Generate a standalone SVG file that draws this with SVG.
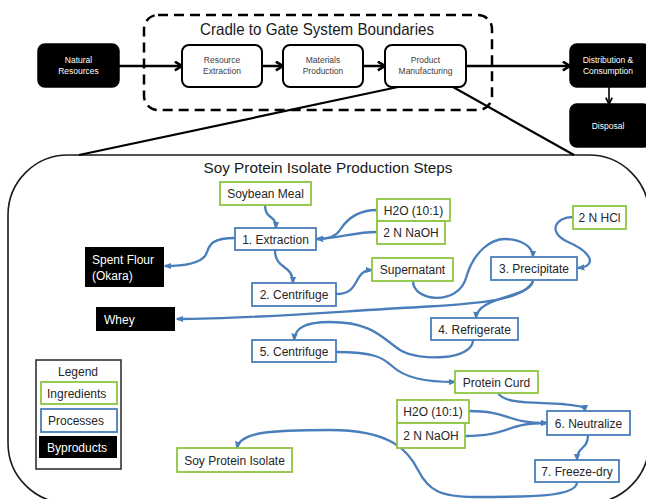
<svg xmlns="http://www.w3.org/2000/svg" width="646" height="499" viewBox="0 0 646 499">
<defs>
<style>
text{font-family:"Liberation Sans",Arial,sans-serif;}
.blk{fill:#000;stroke:#000;stroke-width:1.5;}
.wht{fill:#fff;stroke:#000;stroke-width:2;}
.ts{font-size:8.5px;text-anchor:middle;}
.tw{fill:#fff;}
.tg{fill:#404040;}
.ing{fill:#fff;stroke:#8DC63F;stroke-width:1.8;}
.pro{fill:#fff;stroke:#4A7EBB;stroke-width:1.8;}
.byp{fill:#000;}
.tn{font-size:12px;fill:#262626;text-anchor:middle;}
.tl{font-size:12px;}
.con path{fill:none;stroke:#4A7EBB;stroke-width:2.3;marker-end:url(#ab);}
.kcon line{stroke:#000;stroke-width:2.5;}
</style>
<marker id="ab" viewBox="0 0 10 10" refX="8" refY="5" markerWidth="8" markerHeight="8" markerUnits="userSpaceOnUse" orient="auto"><path d="M0,1 L10,5 L0,9 z" fill="#4A7EBB"/></marker>
<marker id="ak" viewBox="0 0 10 10" refX="8.5" refY="5" markerWidth="11" markerHeight="11" markerUnits="userSpaceOnUse" orient="auto"><path d="M2,1 L8.5,5 L2,9" fill="none" stroke="#000" stroke-width="2.4"/></marker>
<marker id="ak2" viewBox="0 0 10 10" refX="9" refY="5" markerWidth="8" markerHeight="8" markerUnits="userSpaceOnUse" orient="auto"><path d="M1,1 L9,5 L1,9" fill="none" stroke="#000" stroke-width="2.2"/></marker>
</defs>
<rect width="646" height="499" fill="#fff"/>

<g id="boundary">
<rect x="144" y="15" width="348" height="95" rx="14" fill="none" stroke="#000" stroke-width="2.5" stroke-dasharray="10,6"/>
<text x="317" y="35" font-size="16.5" text-anchor="middle" textLength="234" lengthAdjust="spacingAndGlyphs" fill="#1a1a1a">Cradle to Gate System Boundaries</text>
</g>

<g id="steps-frame">
<rect x="8" y="155" width="641" height="348" rx="60" fill="none" stroke="#1a1a1a" stroke-width="1.6"/>
<text x="328" y="173" font-size="15" text-anchor="middle" textLength="249" lengthAdjust="spacingAndGlyphs" fill="#1a1a1a">Soy Protein Isolate Production Steps</text>
</g>

<g id="zoom-lines" stroke="#000" stroke-width="2.2">
<line x1="398" y1="87" x2="79" y2="155"/>
<line x1="453" y1="87" x2="574" y2="155"/>
</g>

<g id="top-connectors" class="kcon">
<line x1="119" y1="66" x2="182" y2="66" marker-end="url(#ak)"/>
<line x1="262" y1="66" x2="283" y2="66" marker-end="url(#ak)"/>
<line x1="363" y1="66" x2="385" y2="66" marker-end="url(#ak)"/>
<line x1="466" y1="66" x2="570" y2="66" marker-end="url(#ak)"/>
<line x1="609" y1="87" x2="609" y2="104" style="stroke-width:1.6" marker-end="url(#ak2)"/>
</g>

<g id="natural-resources">
<rect class="blk" x="38" y="44" width="81" height="43" rx="7"/>
<text class="ts tw" x="78.5" y="63">Natural</text>
<text class="ts tw" x="78.5" y="74">Resources</text>
</g>
<g id="resource-extraction">
<rect class="wht" x="182" y="45" width="80" height="42" rx="7"/>
<text class="ts tg" x="222" y="63">Resource</text>
<text class="ts tg" x="222" y="74">Extraction</text>
</g>
<g id="materials-production">
<rect class="wht" x="283" y="45" width="80" height="42" rx="7"/>
<text class="ts tg" x="323" y="63">Materials</text>
<text class="ts tg" x="323" y="74">Production</text>
</g>
<g id="product-manufacturing">
<rect class="wht" x="385" y="45" width="81" height="42" rx="7"/>
<text class="ts tg" x="425.5" y="63">Product</text>
<text class="ts tg" x="425.5" y="74">Manufacturing</text>
</g>
<g id="distribution">
<rect class="blk" x="570" y="44" width="80" height="43" rx="7"/>
<text class="ts tw" x="608" y="63">Distribution &amp;</text>
<text class="ts tw" x="608" y="74">Consumption</text>
</g>
<g id="disposal">
<rect class="blk" x="570" y="104" width="80" height="43" rx="7"/>
<text class="ts tw" x="608" y="129">Disposal</text>
</g>

<g id="connectors" class="con">
<path d="M265,205 C265,220 276,214 276,228"/>
<path d="M377,210 C355,210 345,222 340,230 C335,238 325,239 317,239"/>
<path d="M377,232 C355,232 340,238 317,239"/>
<path d="M235,238 C205,238 210,250 205,256 C198,265 180,266 165,266"/>
<path d="M275,250 C275,270 293,264 293,283"/>
<path d="M336,294 C362,294 352,270 372,270"/>
<path d="M413,281 C413,302 458,306 466,278 C474,250 492,239 505,239 C520,239 533,246 533,257"/>
<path d="M573,217 C555,217 548,232 566,241 C592,252 598,266 578,268"/>
<path d="M533,281 C524,302 470,304 420,307 C330,312 250,319 177,319"/>
<path d="M533,281 C530,298 477,296 476,318"/>
<path d="M473,340 C473,360 420,362 400,350 C382,338 372,322 330,322 C305,322 295,328 294,340"/>
<path d="M336,352 C375,352 383,358 392,366 C405,378 425,382 455,382"/>
<path d="M498,393 C505,405 540,402 562,404 C580,406 585,406 585,411"/>
<path d="M469,411 C510,411 505,423 547,423"/>
<path d="M465,436 C510,436 505,423 547,423"/>
<path d="M588,435 C588,450 577,446 577,460"/>
<path d="M577,482 C577,497 530,497 475,497 C440,497 428,490 418,470 C408,450 390,430 330,430 C270,430 240,432 237,448"/>
</g>

<g id="soybean-meal"><rect class="ing" x="220" y="182" width="91" height="23"/><text class="tn" x="265.5" y="198">Soybean Meal</text></g>
<g id="extraction"><rect class="pro" x="235" y="228" width="81" height="22"/><text class="tn" x="275.5" y="243.5">1. Extraction</text></g>
<g id="spent-flour"><rect class="byp" x="85" y="247" width="79" height="40"/><text class="tl" x="92" y="264" fill="#fff">Spent Flour</text><text class="tl" x="92" y="280" fill="#fff">(Okara)</text></g>
<g id="centrifuge-2"><rect class="pro" x="252" y="283" width="84" height="23"/><text class="tn" x="294" y="299">2. Centrifuge</text></g>
<g id="whey"><rect class="byp" x="96" y="307" width="79" height="24"/><text class="tl" x="104" y="323.5" fill="#fff">Whey</text></g>
<g id="h2o-top"><rect class="ing" x="377" y="199" width="73" height="22"/><text class="tn" x="413.5" y="214.5">H2O (10:1)</text></g>
<g id="naoh-top"><rect class="ing" x="377" y="221" width="68" height="23"/><text class="tn" x="411" y="237">2 N NaOH</text></g>
<g id="supernatant"><rect class="ing" x="372" y="258" width="81" height="23"/><text class="tn" x="412.5" y="274">Supernatant</text></g>
<g id="precipitate"><rect class="pro" x="491" y="257" width="86" height="23"/><text class="tn" x="534" y="273">3. Precipitate</text></g>
<g id="hcl"><rect class="ing" x="573" y="206" width="53" height="23"/><text class="tn" x="599.5" y="222">2 N HCl</text></g>
<g id="refrigerate"><rect class="pro" x="431" y="318" width="87" height="22"/><text class="tn" x="474.5" y="333.5">4. Refrigerate</text></g>
<g id="centrifuge-5"><rect class="pro" x="252" y="340" width="84" height="22"/><text class="tn" x="294" y="355.5">5. Centrifuge</text></g>
<g id="protein-curd"><rect class="ing" x="455" y="371" width="83" height="22"/><text class="tn" x="496.5" y="386.5">Protein Curd</text></g>
<g id="h2o-bottom"><rect class="ing" x="397" y="400" width="72" height="23"/><text class="tn" x="433" y="416">H2O (10:1)</text></g>
<g id="naoh-bottom"><rect class="ing" x="397" y="423" width="68" height="25"/><text class="tn" x="431" y="440">2 N NaOH</text></g>
<g id="neutralize"><rect class="pro" x="547" y="411" width="83" height="24"/><text class="tn" x="588.5" y="427.5">6. Neutralize</text></g>
<g id="freeze-dry"><rect class="pro" x="535" y="460" width="84" height="22"/><text class="tn" x="577" y="475.5">7. Freeze-dry</text></g>
<g id="soy-protein-isolate"><rect class="ing" x="177" y="448" width="115" height="24"/><text class="tn" x="234.5" y="464.5">Soy Protein Isolate</text></g>

<g id="legend">
<rect x="36" y="360" width="85" height="109" fill="#fff" stroke="#333" stroke-width="1.6"/>
<text class="tn" x="78" y="376">Legend</text>
<rect class="ing" x="41" y="382" width="76" height="22"/><text class="tl" x="47" y="397.5" fill="#262626">Ingredients</text>
<rect class="pro" x="41" y="409" width="76" height="23"/><text class="tl" x="48" y="425" fill="#262626">Processes</text>
<rect class="byp" x="39" y="436" width="78" height="22"/><text class="tl" x="47" y="451.5" fill="#fff">Byproducts</text>
</g>
</svg>
